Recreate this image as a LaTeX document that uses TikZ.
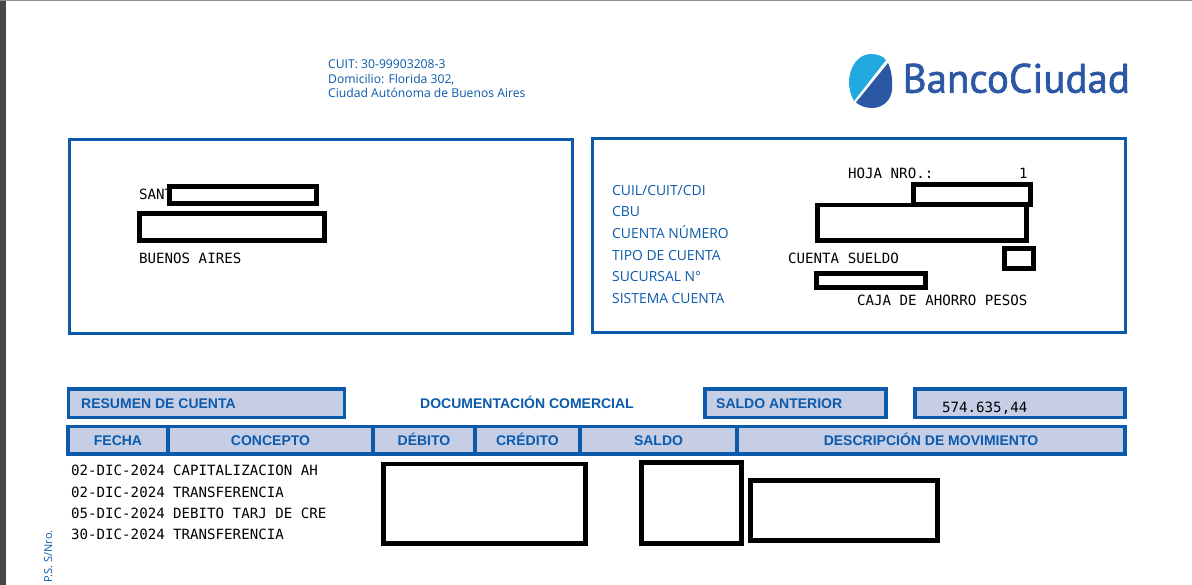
\documentclass[tikz,border=0pt]{standalone}
\usepackage{fontspec}
\setmainfont{Open Sans}
\newfontfamily\monof{DejaVu Sans Mono}
\newfontfamily\headf{Liberation Sans}
\newfontfamily\logof[FakeBold=1.5]{PT Sans}
\definecolor{bblue}{HTML}{0B5AAB}
\definecolor{bfill}{HTML}{C6CEE6}
\definecolor{logolight}{HTML}{22A9E1}
\definecolor{logodark}{HTML}{2B57A5}
\definecolor{sidebar}{HTML}{45484A}
\tikzset{
  x=1pt,y=-1pt,
  panel/.style={draw=bblue,line width=3pt,fill=white},
  band/.style={draw=bblue,line width=3.4pt,fill=bfill},
  redact/.style={draw=black,line width=4.8pt,fill=white},
  mono/.style={inner sep=0pt,anchor=base west,text=black,font=\monof\fontsize{14.13}{14}\selectfont},
  info/.style={inner sep=0pt,anchor=base west,text=bblue,font=\fontsize{13.9}{14}\selectfont},
  small/.style={inner sep=0pt,anchor=base west,text=bblue,font=\fontsize{12.15}{14}\selectfont},
  head/.style={inner sep=0pt,anchor=base,text=bblue,font=\headf\bfseries\fontsize{14}{14}\selectfont},
}
\begin{document}
\begin{tikzpicture}
\useasboundingbox (0,0) rectangle (1192,585);
\fill[white] (0,0) rectangle (1192,585);
\fill[sidebar] (0,0) rectangle (6,585);
\fill[black!45] (0,0) rectangle (1192,1);
% address header
\node[small] (cuit) at (328,68.7) {CUIT: 30-99903208-3};
\node[small] (dom) at (328,83.2) {Domicilio: Florida 302,};
\node[small] (city) at (328,97.7) {Ciudad Autónoma de Buenos Aires};
% logo
\fill[logolight] (854,101) .. controls (849,92) and (848,83) .. (850,74)
  .. controls (853,61) and (862,54) .. (871,54)
  .. controls (877,54) and (883,56) .. (886,60) -- cycle;
\fill[logodark] (888,63) .. controls (891,69) and (893,80) .. (892,90)
  .. controls (891,101) and (882,108) .. (872,108)
  .. controls (866,108) and (860,106) .. (856,102.5) -- cycle;
\node[inner sep=0pt,anchor=base west,text=logodark,xscale=1.0,
  font=\logof\fontsize{41}{41}\selectfont] (logo) at (902.5,92.7) {BancoCiudad};
% panels
\draw[panel] (69.8,139.8) rectangle (572.5,334);
\draw[panel] (592,139) rectangle (1125,333);
% left panel text
\node[mono] (sant) at (139,199.4) {SANT};
\node[mono] (ba) at (139,263.4) {BUENOS AIRES};
\draw[redact] (169.5,186.5) rectangle (316.5,203.5);
\draw[redact] (139.5,213.5) rectangle (324.7,240.5);
% right panel text
\node[info] (l1) at (612,195.7) {CUIL/CUIT/CDI};
\node[info] (l2) at (612,216.7) {CBU};
\node[info] (l3) at (612,238.7) {CUENTA NÚMERO};
\node[info] (l4) at (612,260.7) {TIPO DE CUENTA};
\node[info] (l5) at (612,281.7) {SUCURSAL N°};
\node[info] (l6) at (612,303.7) {SISTEMA CUENTA};
\node[mono] (hoja) at (848,178.5) {HOJA NRO.:};
\node[mono] (one) at (1019,178.5) {1};
\node[mono] (sueldo) at (788,263.5) {CUENTA SUELDO};
\node[mono] (caja) at (857,305.5) {CAJA DE AHORRO PESOS};
\draw[redact] (913.5,184.3) rectangle (1030.5,204.4);
\draw[redact] (817.2,205) rectangle (1026.7,240.8);
\draw[redact] (1004.2,248.4) rectangle (1033.6,268.3);
\draw[redact] (816.2,273.4) rectangle (925.4,287.6);
% summary row
\draw[band] (68.7,389) rectangle (344.3,417.3);
\node[head,anchor=base west] (resumentxt) at (81,408) {RESUMEN DE CUENTA};
\node[head] (doc) at (527,408) {DOCUMENTACIÓN COMERCIAL};
\draw[band] (705,389) rectangle (886,417.3);
\node[head,anchor=base west] (saldotxt) at (716,408) {SALDO ANTERIOR};
\draw[band] (915,389) rectangle (1125,417.3);
\node[mono] (valortxt) at (942,412.5) {574.635,44};
% table header
\foreach \nm/\xa/\xb/\lab in {h1/68/168/FECHA,h2/168/373/CONCEPTO,h3/373/475/DÉBITO,h4/475/580/CRÉDITO,h5/580/737/SALDO,h6/737/1125/DESCRIPCIÓN DE MOVIMIENTO}{
  \draw[band] (\xa,426.7) rectangle (\xb,454);
  \node[head] (\nm) at ({(\xa+\xb)/2},445) {\lab};
}
% rows
\node[mono] (d1) at (71,475.5) {02-DIC-2024};
\node[mono] (c1) at (173,475.5) {CAPITALIZACION AH};
\node[mono] (d2) at (71,497.3) {02-DIC-2024};
\node[mono] (c2) at (173,497.3) {TRANSFERENCIA};
\node[mono] (d3) at (71,518.3) {05-DIC-2024};
\node[mono] (c3) at (173,518.3) {DEBITO TARJ DE CRE};
\node[mono] (d4) at (71,539.3) {30-DIC-2024};
\node[mono] (c4) at (173,539.3) {TRANSFERENCIA};
\draw[redact] (383.4,464) rectangle (585.6,543.7);
\draw[redact] (641.4,462.4) rectangle (741.6,543.7);
\draw[redact] (750.4,480.4) rectangle (937.6,540.7);
% side text
\node[inner sep=0pt,anchor=base east,rotate=90,text=bblue,font=\fontsize{11}{11}\selectfont] (side) at (52,530) {P.S. S/Nro.};
\end{tikzpicture}
\end{document}
